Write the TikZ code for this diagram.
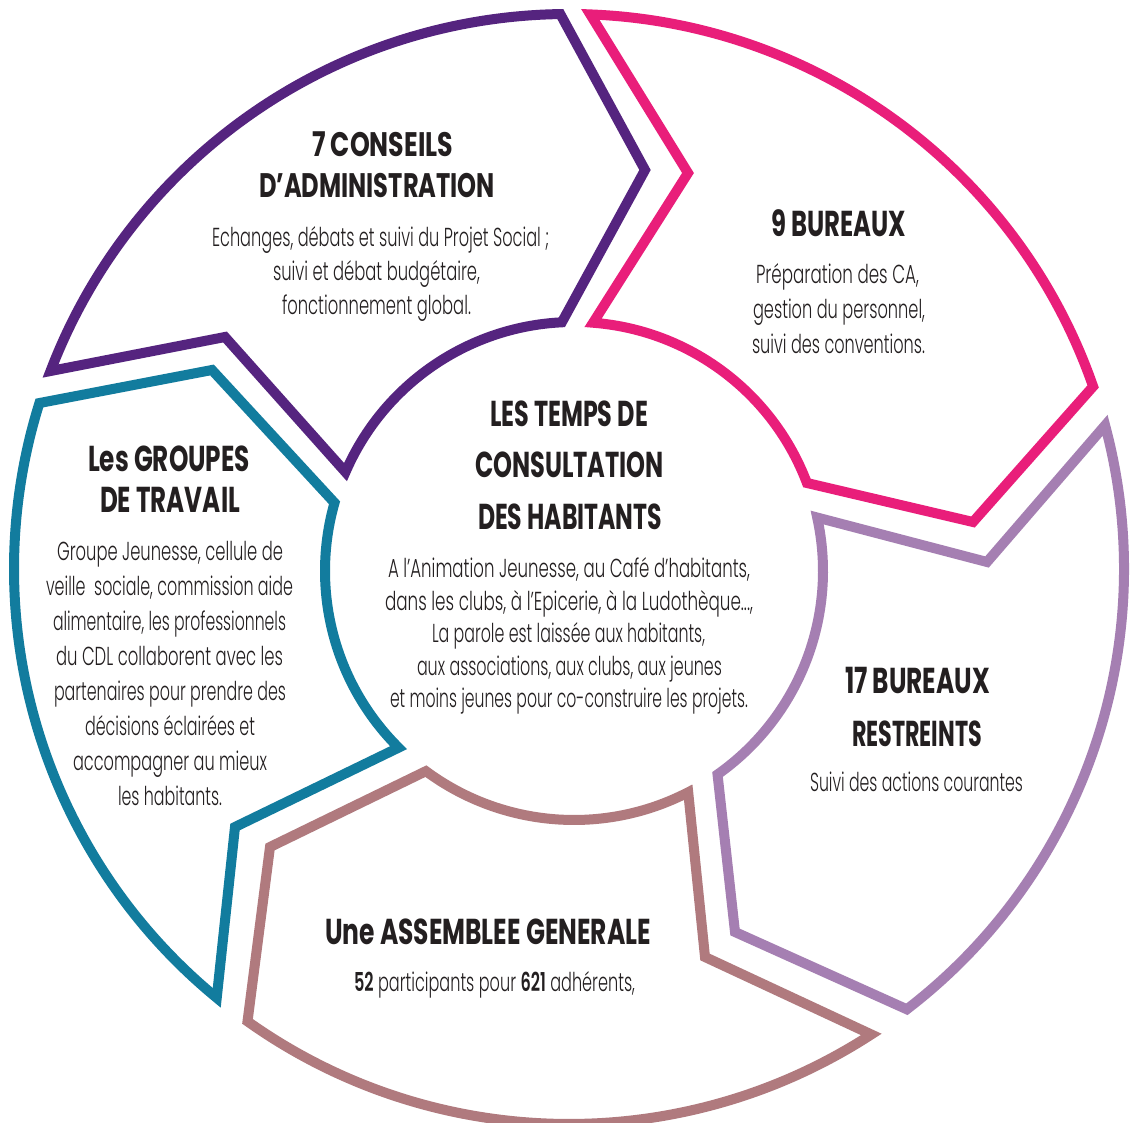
\documentclass[tikz,border=0pt]{standalone}
\usepackage{fontspec}
\setmainfont{Poppins}[UprightFont=* Light, BoldFont=* SemiBold]
\newfontfamily\titlefont{Poppins}[UprightFont=* Bold]
\usetikzlibrary{calc}
\definecolor{cPurple}{HTML}{55247F}
\definecolor{cPink}{HTML}{E91E7A}
\definecolor{cLilac}{HTML}{A57FB2}
\definecolor{cRose}{HTML}{B07A7E}
\definecolor{cTeal}{HTML}{127C9E}
\definecolor{cText}{HTML}{231F20}
\newsavebox\hfbox
\newcommand\hfit[2]{\sbox\hfbox{#2}\pgfmathsetmacro\hfr{#1/\the\wd\hfbox}\scalebox{\hfr}[1]{\usebox\hfbox}}
\begin{document}
\begin{tikzpicture}[x=1pt,y=1pt,
  seg/.style={line width=10pt, fill=white, line join=miter},
  ttl/.style={anchor=base, inner sep=0pt, text=cText, font=\titlefont\fontsize{36}{40}\selectfont},
  ttlp/.style={ttl, font=\titlefont\fontsize{34}{38}\selectfont},
  bdy/.style={anchor=base, inner sep=0pt, text=cText, font=\fontsize{26}{30}\selectfont}]
\useasboundingbox (0,0) rectangle (1135,1122);
\fill[white] (0,0) rectangle (1135,1122);
\coordinate (Ci) at (574,551);
\coordinate (Co) at (569,553);
% purple
\draw[seg, draw=cPurple] ($(Co)+(159.1:555pt)$) arc[start angle=159.1, end angle=90.9, radius=555pt]
  -- (645,952) -- ($(Ci)+(92.8:249pt)$) arc[start angle=92.8, end angle=156.6, radius=249pt]
  -- (225,785) -- cycle;
% pink
\draw[seg, draw=cPink] ($(Co)+(87.8:555pt)$) arc[start angle=87.8, end angle=19.2, radius=555pt]
  -- (973,600) -- ($(Ci)+(20.7:249pt)$) arc[start angle=20.7, end angle=85.6, radius=249pt]
  -- (688,949) -- cycle;
% lilac
\draw[seg, draw=cLilac] ($(Co)+(15.0:555pt)$) arc[start angle=15.0, end angle=-52.5, radius=555pt]
  -- (735,190) -- ($(Ci)+(-54.8:249pt)$) arc[start angle=-54.8, end angle=12.4, radius=249pt]
  -- (987,560) -- cycle;
% rose
\draw[seg, draw=cRose] ($(Co)+(-57.0:555pt)$) arc[start angle=-57.0, end angle=-125.4, radius=555pt]
  -- (270,275) -- ($(Ci)+(-126.5:249pt)$) arc[start angle=-126.5, end angle=-62.7, radius=249pt]
  -- (705,165) -- cycle;
% teal
\draw[seg, draw=cTeal] ($(Co)+(-129.4:555pt)$) arc[start angle=-129.4, end angle=-197.4, radius=555pt]
  -- (212,752) -- ($(Ci)+(-195.9:249pt)$) arc[start angle=-195.9, end angle=-134.8, radius=249pt]
  -- (235,295) -- cycle;

% purple texts
\node[ttlp] (p1) at (382.5,965) {\hfit{141}{7 CONSEILS}};
\node[ttlp] (p2) at (377,924) {\hfit{236}{D’ADMINISTRATION}};
\node[bdy] (p3) at (380.5,875) {\hfit{337}{Echanges, débats et suivi du Projet Social ;}};
\node[bdy] (p4) at (376.5,841) {\hfit{207}{suivi et débat budgétaire,}};
\node[bdy] (p5) at (376.5,807) {\hfit{189}{fonctionnement global.}};
% pink texts
\node[ttl] (k1) at (838.5,885) {\hfit{135}{9 BUREAUX}};
\node[bdy] (k2) at (837.5,838) {\hfit{163}{Préparation des CA,}};
\node[bdy] (k3) at (839,803) {\hfit{172}{gestion du personnel,}};
\node[bdy] (k4) at (838.5,768) {\hfit{173}{suivi des conventions.}};
% center texts
\node[ttl] (c1) at (569,695) {\hfit{158}{LES TEMPS DE}};
\node[ttl] (c2) at (569.5,644) {\hfit{189}{CONSULTATION}};
\node[ttl] (c3) at (570,592) {\hfit{184}{DES HABITANTS}};
\node[bdy] (c4) at (569,544) {\hfit{362}{A l’Animation Jeunesse, au Café d’habitants,}};
\node[bdy] (c5) at (569,511) {\hfit{368}{dans les clubs, à l’Epicerie, à la Ludothèque...,}};
\node[bdy] (c6) at (568.5,479) {\hfit{273}{La parole est laissée aux habitants,}};
\node[bdy] (c7) at (569.5,446) {\hfit{305}{aux associations, aux clubs, aux jeunes}};
\node[bdy] (c8) at (569,414) {\hfit{358}{et moins jeunes pour co-construire les projets.}};
% teal texts
\node[ttl] (t1) at (169,650) {\hfit{162}{Les GROUPES}};
\node[ttl] (t2) at (170,609) {\hfit{140}{DE TRAVAIL}};
\node[bdy] (t3) at (170,561) {\hfit{226}{Groupe Jeunesse, cellule de}};
\node[bdy] (t4) at (169.5,526) {\hfit{247}{veille\ \ sociale, commission aide}};
\node[bdy] (t5) at (169.5,491) {\hfit{233}{alimentaire, les professionnels}};
\node[bdy] (t6) at (169.5,456) {\hfit{227}{du CDL collaborent avec les}};
\node[bdy] (t7) at (170,421) {\hfit{232}{partenaires pour prendre des}};
\node[bdy] (t8) at (170,386) {\hfit{170}{décisions éclairées et}};
\node[bdy] (t9) at (170,351) {\hfit{194}{accompagner au mieux}};
\node[bdy] (t10) at (170,316) {\hfit{104}{les habitants.}};
% lilac texts
\node[ttl] (l1) at (917.5,428) {\hfit{145}{17 BUREAUX}};
\node[ttl] (l2) at (917,375) {\hfit{130}{RESTREINTS}};
\node[bdy] (l3) at (916.5,330) {\hfit{213}{Suivi des actions courantes}};
% rose texts
\node[ttl] (r1) at (488,177) {\hfit{326}{Une ASSEMBLEE GENERALE}};
\node[bdy] (r2) at (494.5,130) {\hfit{281}{\textbf{52} participants pour \textbf{621} adhérents,}};
\end{tikzpicture}
\end{document}
